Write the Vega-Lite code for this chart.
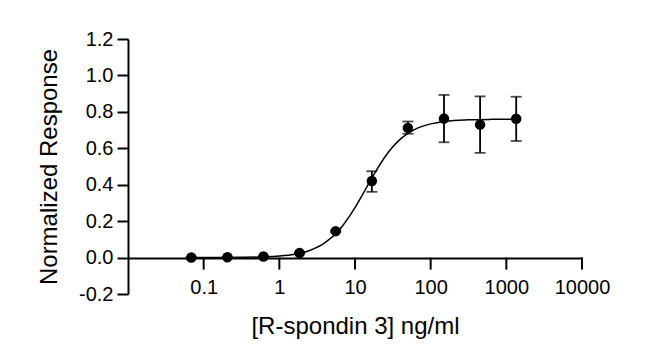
{
  "$schema": "https://vega.github.io/schema/vega-lite/v6.json",
  "autosize": "none",
  "width": 454,
  "height": 255,
  "padding": {"left": 128, "top": 39, "right": 68, "bottom": 69},
  "background": "white",
  "config": {
    "view": {"stroke": null},
    "font": "Liberation Sans",
    "axis": {"grid": false, "domainColor": "#000000", "tickColor": "#000000", "labelColor": "#000000", "titleColor": "#000000", "domainWidth": 2, "tickWidth": 2, "labelFontSize": 20, "titleFontSize": 24, "titleFontWeight": "normal"}
  },
  "datasets": {
    "points": [
      {"conc": 0.0686, "resp": 0.0, "lo": 0.0, "hi": 0.0},
      {"conc": 0.206, "resp": 0.002, "lo": 0.002, "hi": 0.002},
      {"conc": 0.617, "resp": 0.006, "lo": 0.006, "hi": 0.006},
      {"conc": 1.85, "resp": 0.025, "lo": 0.02, "hi": 0.03},
      {"conc": 5.56, "resp": 0.145, "lo": 0.14, "hi": 0.15},
      {"conc": 16.7, "resp": 0.42, "lo": 0.361, "hi": 0.474},
      {"conc": 50, "resp": 0.712, "lo": 0.68, "hi": 0.747},
      {"conc": 150, "resp": 0.763, "lo": 0.633, "hi": 0.893},
      {"conc": 450, "resp": 0.73, "lo": 0.575, "hi": 0.885},
      {"conc": 1350, "resp": 0.762, "lo": 0.64, "hi": 0.883}
    ],
    "xticks": [
      {"t": 0.1}, {"t": 1}, {"t": 10}, {"t": 100}, {"t": 1000}, {"t": 10000}
    ],
    "curve": [
      {"conc": 0.0692, "fit": 0.0001},
      {"conc": 0.158, "fit": 0.0003},
      {"conc": 0.316, "fit": 0.0012},
      {"conc": 0.631, "fit": 0.0039},
      {"conc": 1.0, "fit": 0.0085},
      {"conc": 1.585, "fit": 0.0183},
      {"conc": 2.512, "fit": 0.0389},
      {"conc": 3.981, "fit": 0.0802},
      {"conc": 6.31, "fit": 0.156},
      {"conc": 10.0, "fit": 0.274},
      {"conc": 12.59, "fit": 0.346},
      {"conc": 15.85, "fit": 0.42},
      {"conc": 19.95, "fit": 0.491},
      {"conc": 25.12, "fit": 0.555},
      {"conc": 31.62, "fit": 0.608},
      {"conc": 39.81, "fit": 0.65},
      {"conc": 50.12, "fit": 0.682},
      {"conc": 63.1, "fit": 0.7055},
      {"conc": 100, "fit": 0.734},
      {"conc": 158.5, "fit": 0.748},
      {"conc": 316.2, "fit": 0.756},
      {"conc": 631, "fit": 0.7588},
      {"conc": 1350, "fit": 0.7597}
    ]
  },
  "layer": [
    {
      "data": {"name": "curve"},
      "mark": {"type": "line", "color": "black", "strokeWidth": 1.5, "interpolate": "monotone"},
      "encoding": {
        "x": {"field": "conc", "type": "quantitative", "scale": {"type": "log", "domain": [0.0101, 10000]},
          "axis": {"offset": -36, "tickCount": 5, "format": "~g", "labelExpr": "datum.value < 0.05 ? '' : datum.label", "tickSize": 12, "tickOpacity": 0, "labelPadding": 7, "labelFlush": false, "labelOverlap": false, "title": "[R-spondin 3] ng/ml", "titlePadding": 17}},
        "y": {"field": "fit", "type": "quantitative", "scale": {"domain": [-0.2, 1.2], "nice": false},
          "axis": {"tickCount": 7, "format": ".1f", "labelExpr": "replace(datum.label, '\u2212', '-')", "tickSize": 11, "labelPadding": 4, "labelOverlap": false, "title": "Normalized Response", "titlePadding": 17}}
      }
    },
    {
      "data": {"name": "xticks"},
      "mark": {"type": "rule", "color": "black", "strokeWidth": 2},
      "encoding": {
        "x": {"field": "t", "type": "quantitative"},
        "y": {"datum": 0, "type": "quantitative"},
        "y2": {"datum": -0.066}
      }
    },
    {
      "data": {"name": "points"},
      "mark": {"type": "errorbar", "color": "black", "thickness": 1.8, "ticks": {"size": 11, "thickness": 1.8, "color": "black"}},
      "encoding": {
        "x": {"field": "conc", "type": "quantitative"},
        "y": {"field": "lo", "type": "quantitative", "title": "Normalized Response"},
        "y2": {"field": "hi"}
      }
    },
    {
      "data": {"name": "points"},
      "mark": {"type": "circle", "color": "black", "opacity": 1, "size": 110},
      "encoding": {
        "x": {"field": "conc", "type": "quantitative"},
        "y": {"field": "resp", "type": "quantitative"}
      }
    }
  ]
}
